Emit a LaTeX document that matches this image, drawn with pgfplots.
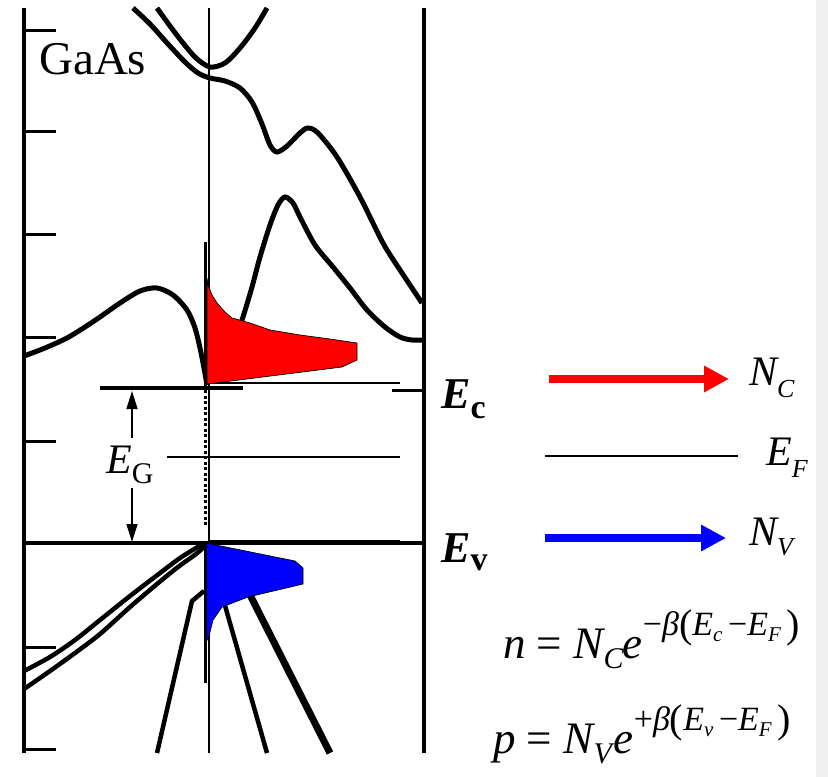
\documentclass[border=0pt]{standalone}
\usepackage{pgfplots}
\pgfplotsset{compat=1.18}
\usetikzlibrary{arrows.meta}
\usepackage{fontspec}
\setmainfont{Liberation Serif}
\definecolor{stripgray}{RGB}{239,239,239}
\newcommand{\fs}[1]{\fontsize{#1}{#1}\selectfont}
\begin{document}
\begin{tikzpicture}
\begin{axis}[scale only axis, width=828pt, height=777pt,
  xmin=0, xmax=828, ymin=0, ymax=777, y dir=reverse,
  hide axis, clip=false]
% background
\addplot[fill=white, draw=none] coordinates {(0,0) (828,0) (828,777) (0,777) (0,0)};
\addplot[fill=stripgray, draw=none] coordinates {(816,0) (828,0) (828,777) (816,777) (816,0)};
% frame
\addplot[black, line width=3.4pt] coordinates {(24,8) (24,753)};
\addplot[black, line width=3.4pt] coordinates {(424,8) (424,753)};
\addplot[black, line width=1.8pt] coordinates {(209,8) (209,753)};
\addplot[black, line width=3.2pt] coordinates {(24,543) (424,543)};
% left ticks
\addplot[black, line width=3pt] coordinates {(24,30) (56,30)};
\addplot[black, line width=3pt] coordinates {(24,131) (56,131)};
\addplot[black, line width=3pt] coordinates {(24,234) (56,234)};
\addplot[black, line width=3pt] coordinates {(24,337) (56,337)};
\addplot[black, line width=3pt] coordinates {(24,441) (56,441)};
\addplot[black, line width=3pt] coordinates {(24,647) (56,647)};
\addplot[black, line width=3pt] coordinates {(24,749) (56,749)};
\addplot[black, line width=3pt] coordinates {(392,390) (424,390)};
% Ec thick line
\addplot[black, line width=3.2pt] coordinates {(100,388) (243,388)};
% thin level lines
\addplot[black, line width=1.3pt] coordinates {(208,383) (400,383)};
\addplot[black, line width=1.3pt] coordinates {(167,457) (400,457)};
\addplot[black, line width=1.3pt] coordinates {(208,541) (400,541)};
% conduction bands
\addplot[black, line width=5pt, smooth] coordinates {(157,8) (170,26) (183,43) (196,58) (210,67) (225,63) (240,48) (255,28) (267,8)};
\addplot[black, line width=5pt, smooth] coordinates {(133,8) (150,24) (168,44) (185,62) (198,73) (210,78) (225,81) (240,88) (252,102) (262,124) (270,145) (277,152) (287,146) (300,133) (308,128) (318,133) (337,157) (360,197) (383,243) (400,270) (422,303)};
\addplot[black, line width=5pt, smooth] coordinates {(232,350) (243,317) (252,287) (260,257) (270,225) (278,205) (285,197) (293,203) (300,217) (315,245) (333,267) (350,288) (367,310) (385,327) (400,337) (412,340) (424,340)};
\addplot[black, line width=5pt, smooth] coordinates {(24,356) (45,348) (67,338) (85,327) (100,317) (120,303) (140,291) (157,288) (173,295) (187,310) (195,328) (200,348) (204,368) (207,385)};
% valence bands
\addplot[black, line width=4.5pt, smooth] coordinates {(205,543) (196,548) (180,558) (160,573) (130,596) (100,620) (75,640) (50,657) (24,671)};
\addplot[black, line width=4.5pt, smooth] coordinates {(205,546) (196,554) (178,567) (157,584) (130,607) (100,634) (75,653) (50,671) (24,689)};
\addplot[black, line width=4.5pt] coordinates {(204,591) (192,601) (157,753)};
\addplot[black, line width=4.5pt] coordinates {(222,595) (267,753)};
\addplot[black, line width=7pt] coordinates {(245,585) (330,753)};
% DOS fills
\addplot[fill=red, draw=black, line width=0.7pt] coordinates {(207,278) (208,285) (212,295) (217,303) (225,312) (232,318) (250,323) (270,330) (300,335) (330,339) (357,343) (357,360) (342,367) (207,384) (207,278)};
\addplot[fill=blue, draw=black, line width=0.7pt] coordinates {(206,543) (295,561) (303,568) (303,584) (248,597) (222,607) (213,620) (208,640) (206,640) (206,543)};
% DOS axis lines
\addplot[black, line width=3pt] coordinates {(205,242) (205,386)};
\addplot[black, line width=3pt] coordinates {(205,543) (205,683)};
\addplot[black, line width=3pt, dash pattern=on 3pt off 2.5pt] coordinates {(205,390) (205,526)};
% EG arrow
\addplot[black, line width=1.6pt, -{Triangle[length=18pt,width=11pt]}] coordinates {(132,438) (132,391)};
\addplot[black, line width=1.6pt, -{Triangle[length=18pt,width=11pt]}] coordinates {(132,488) (132,542)};
% right arrows and EF line
\addplot[red, line width=8pt, -{Triangle[length=25pt,width=25pt]}] coordinates {(549,379) (729,379)};
\addplot[blue, line width=8pt, -{Triangle[length=25pt,width=25pt]}] coordinates {(545,538) (726,538)};
\addplot[black, line width=1.4pt] coordinates {(545,456) (738,456)};
% labels
\node[anchor=base west, inner sep=0] at (axis cs:39,74) {\fs{47}GaAs};
\node[anchor=base west, inner sep=0] at (axis cs:106,473) {\fs{42}\textit{E}\raisebox{-10pt}{\fs{30}G}};
\node[anchor=base west, inner sep=0] at (axis cs:441,408) {\fs{44}\textbf{\textit{E}}\raisebox{-10pt}{\fs{34}\textbf{c}}};
\node[anchor=base west, inner sep=0] at (axis cs:441,562) {\fs{44}\textbf{\textit{E}}\raisebox{-8pt}{\fs{34}\textbf{v}}};
\node[anchor=base west, inner sep=0] at (axis cs:749,385) {\fs{42}\textit{N}\kern-2pt\raisebox{-12pt}{\fs{26}\textit{C}}};
\node[anchor=base west, inner sep=0] at (axis cs:766,465) {\fs{42}\textit{E}\raisebox{-12pt}{\fs{26}\textit{F}}};
\node[anchor=base west, inner sep=0] at (axis cs:749,545) {\fs{42}\textit{N}\kern-2pt\raisebox{-10pt}{\fs{26}\textit{V}}};
\node[anchor=base west, inner sep=0] at (axis cs:503,658) {\fs{45}\textit{n} = \textit{N}\kern-2pt\raisebox{-10pt}{\fs{30}\textit{C}}\kern-1pt\textit{e}\raisebox{23pt}{\fs{34}−\textit{β}\raisebox{-2pt}{\fs{40}(}\textit{E}\raisebox{-6pt}{\fs{21}\textit{c}}\,−\textit{E}\raisebox{-6pt}{\fs{21}\textit{F}}\,\raisebox{-2pt}{\fs{40})}}};
\node[anchor=base west, inner sep=0] at (axis cs:493,753) {\fs{45}\textit{p} = \textit{N}\kern-2pt\raisebox{-10pt}{\fs{30}\textit{V}}\kern-1pt\textit{e}\raisebox{23pt}{\fs{34}+\textit{β}\raisebox{-2pt}{\fs{40}(}\textit{E}\raisebox{-6pt}{\fs{21}\textit{v}}\,−\textit{E}\raisebox{-6pt}{\fs{21}\textit{F}}\,\raisebox{-2pt}{\fs{40})}}};
\end{axis}
\end{tikzpicture}
\end{document}
